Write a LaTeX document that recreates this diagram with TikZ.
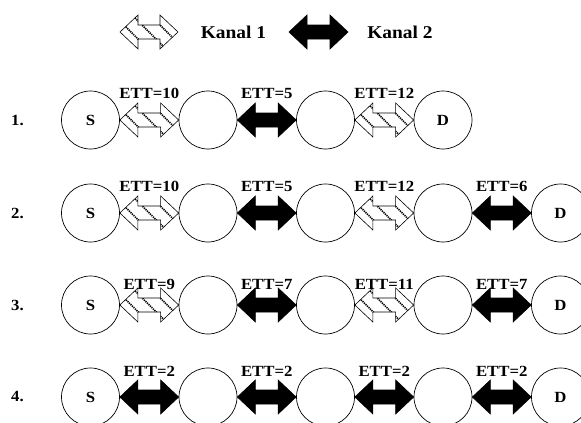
\documentclass[tikz,border=0pt]{standalone}
\usepackage{fontspec}
\setmainfont{Liberation Serif}[FakeStretch=1.08]
\usetikzlibrary{calc}
\tikzset{
  nd/.style={circle,draw,line width=0.7pt,minimum size=58pt,inner sep=0pt,font=\fontsize{15.5}{15.5}\selectfont\bfseries},
  lbl/.style={inner sep=0pt,font=\fontsize{15.5}{15.5}\selectfont\bfseries},
  kanal/.style={inner sep=0pt,font=\fontsize{18}{18}\selectfont\bfseries},
  arrline/.style={line width=0.6pt,line join=miter},
  stripe/.style={line width=1.7pt,dash pattern=on 1.2pt off 0.9pt,black},
}
\newcommand\blackarrow[2]{%
  \filldraw[arrline,fill=black] #1 -- ($#1+(18,-17)$) -- ($#1+(18,-7)$) -- ($#2+(-18,-7)$) -- ($#2+(-18,-17)$) -- #2
    -- ($#2+(-18,17)$) -- ($#2+(-18,7)$) -- ($#1+(18,7)$) -- ($#1+(18,17)$) -- cycle;}
\newcommand\hatcharrow[2]{%
  \begin{scope}
    \clip #1 -- ($#1+(18,-17)$) -- ($#1+(18,-7)$) -- ($#2+(-18,-7)$) -- ($#2+(-18,-17)$) -- #2
      -- ($#2+(-18,17)$) -- ($#2+(-18,7)$) -- ($#1+(18,7)$) -- ($#1+(18,17)$) -- cycle;
    \foreach \o in {-18,0,18}
      \draw[stripe] ($#1!0.5!#2+(\o-20,-20)$) -- ($#1!0.5!#2+(\o+20,20)$);
  \end{scope}
  \draw[arrline] #1 -- ($#1+(18,-17)$) -- ($#1+(18,-7)$) -- ($#2+(-18,-7)$) -- ($#2+(-18,-17)$) -- #2
    -- ($#2+(-18,17)$) -- ($#2+(-18,7)$) -- ($#1+(18,7)$) -- ($#1+(18,17)$) -- cycle;}
\begin{document}
\begin{tikzpicture}[x=1pt,y=-1pt]
\clip (0,0) rectangle (581,423);
% legend
\coordinate (l1a) at (120,32);
\coordinate (l1b) at (178,32);
\coordinate (l2a) at (289,32);
\coordinate (l2b) at (348,32);
\hatcharrow{(l1a)}{(l1b)}
\blackarrow{(l2a)}{(l2b)}
\node[kanal] (k1) at (233.5,32) {Kanal 1};
\node[kanal] (k2) at (400,32) {Kanal 2};

% row 1
\node[lbl] (r1) at (17.5,120) {1.};
\node[nd] (a1) at (90.5,120) {S};
\node[nd] (a2) at (208,120) {};
\node[nd] (a3) at (325.5,120) {};
\node[nd] (a4) at (443,120) {D};
\hatcharrow{(a1.east)}{(a2.west)}
\blackarrow{(a2.east)}{(a3.west)}
\hatcharrow{(a3.east)}{(a4.west)}
\node[lbl] (ta1) at ($(a1)!0.5!(a2)+(0,-27)$) {ETT=10};
\node[lbl] (ta2) at ($(a2)!0.5!(a3)+(0,-27)$) {ETT=5};
\node[lbl] (ta3) at ($(a3)!0.5!(a4)+(0,-27)$) {ETT=12};

% row 2
\node[lbl] (r2) at (17.5,213) {2.};
\node[nd] (b1) at (90.5,213) {S};
\node[nd] (b2) at (208,213) {};
\node[nd] (b3) at (325.5,213) {};
\node[nd] (b4) at (443,213) {};
\node[nd] (b5) at (560.5,213) {D};
\hatcharrow{(b1.east)}{(b2.west)}
\blackarrow{(b2.east)}{(b3.west)}
\hatcharrow{(b3.east)}{(b4.west)}
\blackarrow{(b4.east)}{(b5.west)}
\node[lbl] (tb1) at ($(b1)!0.5!(b2)+(0,-27)$) {ETT=10};
\node[lbl] (tb2) at ($(b2)!0.5!(b3)+(0,-27)$) {ETT=5};
\node[lbl] (tb3) at ($(b3)!0.5!(b4)+(0,-27)$) {ETT=12};
\node[lbl] (tb4) at ($(b4)!0.5!(b5)+(0,-27)$) {ETT=6};

% row 3
\node[lbl] (r3) at (17.5,305) {3.};
\node[nd] (c1) at (90.5,305) {S};
\node[nd] (c2) at (208,305) {};
\node[nd] (c3) at (325.5,305) {};
\node[nd] (c4) at (443,305) {};
\node[nd] (c5) at (560.5,305) {D};
\hatcharrow{(c1.east)}{(c2.west)}
\blackarrow{(c2.east)}{(c3.west)}
\hatcharrow{(c3.east)}{(c4.west)}
\blackarrow{(c4.east)}{(c5.west)}
\node[lbl] (tc1) at ($(c1)!0.5!(c2)+(0,-21)$) {ETT=9};
\node[lbl] (tc2) at ($(c2)!0.5!(c3)+(0,-21)$) {ETT=7};
\node[lbl] (tc3) at ($(c3)!0.5!(c4)+(0,-21)$) {ETT=11};
\node[lbl] (tc4) at ($(c4)!0.5!(c5)+(0,-21)$) {ETT=7};

% row 4
\node[lbl] (r4) at (17.5,397) {4.};
\node[nd] (d1) at (90.5,397) {S};
\node[nd] (d2) at (208,397) {};
\node[nd] (d3) at (325.5,397) {};
\node[nd] (d4) at (443,397) {};
\node[nd] (d5) at (560.5,397) {D};
\blackarrow{(d1.east)}{(d2.west)}
\blackarrow{(d2.east)}{(d3.west)}
\blackarrow{(d3.east)}{(d4.west)}
\blackarrow{(d4.east)}{(d5.west)}
\node[lbl] (td1) at ($(d1)!0.5!(d2)+(0,-26)$) {ETT=2};
\node[lbl] (td2) at ($(d2)!0.5!(d3)+(0,-26)$) {ETT=2};
\node[lbl] (td3) at ($(d3)!0.5!(d4)+(0,-26)$) {ETT=2};
\node[lbl] (td4) at ($(d4)!0.5!(d5)+(0,-26)$) {ETT=2};
\end{tikzpicture}
\end{document}
